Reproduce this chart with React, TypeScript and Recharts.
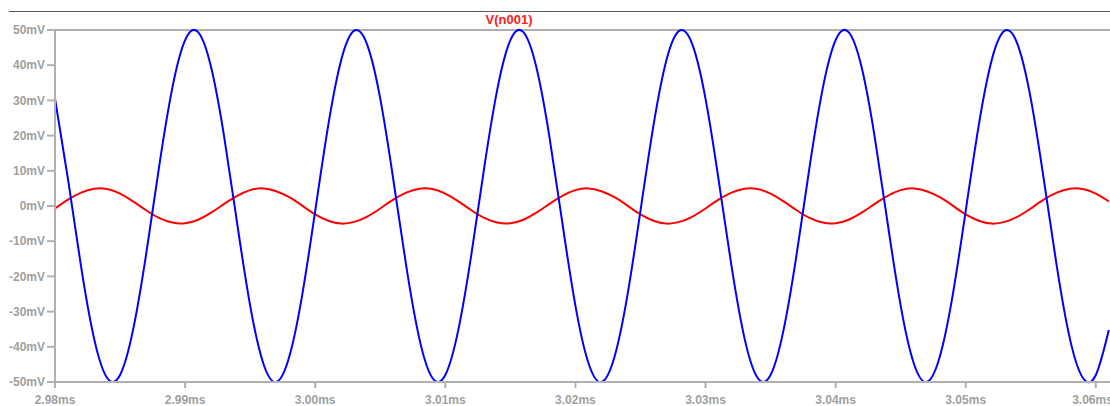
import React from 'react';
import { LineChart, Line, XAxis, YAxis, ReferenceLine } from 'recharts';

// sample times (ms), one sample per microsecond
const times = [
  2.980, 2.981, 2.982, 2.983, 2.984, 2.985, 2.986, 2.987, 2.988, 2.989,
  2.990, 2.991, 2.992, 2.993, 2.994, 2.995, 2.996, 2.997, 2.998, 2.999,
  3.000, 3.001, 3.002, 3.003, 3.004, 3.005, 3.006, 3.007, 3.008, 3.009,
  3.010, 3.011, 3.012, 3.013, 3.014, 3.015, 3.016, 3.017, 3.018, 3.019,
  3.020, 3.021, 3.022, 3.023, 3.024, 3.025, 3.026, 3.027, 3.028, 3.029,
  3.030, 3.031, 3.032, 3.033, 3.034, 3.035, 3.036, 3.037, 3.038, 3.039,
  3.040, 3.041, 3.042, 3.043, 3.044, 3.045, 3.046, 3.047, 3.048, 3.049,
  3.050, 3.051, 3.052, 3.053, 3.054, 3.055, 3.056, 3.057, 3.058, 3.059,
  3.060, 3.061
];

// blue trace (mV)
const vBlue = [
  30.5, 7.6, -17.1, -37.6, -48.8, -48.0, -35.2, -13.8, 11.1, 33.2, 47.1, 49.4, 39.4,
  19.7, -4.9, -28.3, -44.6, -50.0, -42.9, -25.3, -1.4, 22.9, 41.5, 49.8, 45.8,
  30.5, 7.6, -17.1, -37.6, -48.8, -48.0, -35.2, -13.8, 11.1, 33.2, 47.1, 49.4, 39.4,
  19.7, -4.9, -28.3, -44.6, -50.0, -42.9, -25.3, -1.4, 22.9, 41.5, 49.8, 45.8,
  30.5, 7.6, -17.1, -37.6, -48.8, -48.0, -35.2, -13.8, 11.1, 33.2, 47.1, 49.4, 39.4,
  19.7, -4.9, -28.3, -44.6, -50.0, -42.9, -25.3, -1.4, 22.9, 41.5, 49.8, 45.8,
  30.5, 7.6, -17.1, -37.6, -48.8, -48.0, -35.2
];

// red trace V(n001) (mV)
const vRed = [
  -0.7, 1.8, 3.8, 4.9, 4.8, 3.5, 1.3, -1.2, -3.4, -4.7, -4.9, -3.9, -1.9,
  0.6, 2.9, 4.5, 5.0, 4.2, 2.5, 0.1, -2.4, -4.2, -5.0, -4.5, -3.0,
  -0.7, 1.8, 3.8, 4.9, 4.8, 3.5, 1.3, -1.2, -3.4, -4.7, -4.9, -3.9, -1.9,
  0.6, 2.9, 4.5, 5.0, 4.2, 2.5, 0.1, -2.4, -4.2, -5.0, -4.5, -3.0,
  -0.7, 1.8, 3.8, 4.9, 4.8, 3.5, 1.3, -1.2, -3.4, -4.7, -4.9, -3.9, -1.9,
  0.6, 2.9, 4.5, 5.0, 4.2, 2.5, 0.1, -2.4, -4.2, -5.0, -4.5, -3.0,
  -0.7, 1.8, 3.8, 4.9, 4.8, 3.5, 1.3
];

const xTicks = [2.98, 2.99, 3.0, 3.01, 3.02, 3.03, 3.04, 3.05, 3.06];
const yTicks = [-50, -40, -30, -20, -10, 0, 10, 20, 30, 40, 50];

const data = times.map((t, i) => ({ t, blue: vBlue[i], red: vRed[i] }));

const AXIS = '#b0b0b0';
const tickStyle = { fill: '#a0a0a0', fontSize: 12, fontWeight: 700, fontFamily: '"Liberation Sans", Arial, sans-serif' };

export default function App() {
  return (
    <div style={{ position: 'absolute', left: 0, top: 0, width: 1110, height: 406, background: '#fff', overflow: 'hidden' }}>
      {/** top rule */}
      <div style={{ position: 'absolute', left: 9, top: 11, width: 1101, height: 1, background: '#5a5a5a' }} />
      {/** trace name */}
      <div
        style={{
          position: 'absolute', left: 409, width: 200, top: 12, textAlign: 'center',
          color: '#ff2020', fontSize: 13, fontWeight: 700, fontFamily: '"Liberation Sans", Arial, sans-serif'
        }}
      >
        V(n001)
      </div>
      <LineChart width={1110} height={406} data={data} margin={{ top: 30, right: 0, bottom: 0, left: 0 }}>
        <XAxis
          dataKey="t"
          type="number"
          domain={[2.98, 3.06109]}
          allowDataOverflow
          ticks={xTicks}
          tickFormatter={(v: number) => `${v.toFixed(2)}ms`}
          tick={tickStyle}
          tickSize={6}
          tickMargin={7}
          stroke={AXIS}
          strokeWidth={2}
          height={24}
        />
        <YAxis
          type="number"
          domain={[-50, 50]}
          ticks={yTicks}
          tickFormatter={(v: number) => `${v}mV`}
          tick={tickStyle}
          tickSize={8}
          tickMargin={2}
          stroke={AXIS}
          strokeWidth={2}
          width={55}
          interval={0}
        />
        <ReferenceLine y={50} stroke={AXIS} strokeWidth={2} />
        <Line type="natural" dataKey="red" stroke="#ff0000" strokeWidth={2} dot={false} isAnimationActive={false} />
        <Line type="natural" dataKey="blue" stroke="#0000ff" strokeWidth={2} dot={false} isAnimationActive={false} />
      </LineChart>
    </div>
  );
}
